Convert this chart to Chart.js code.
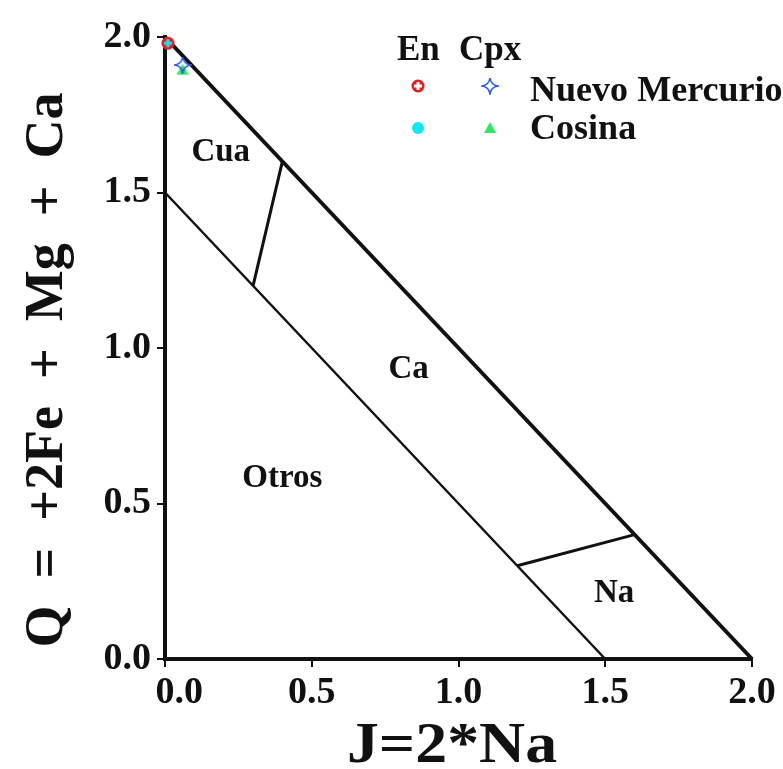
<!DOCTYPE html>
<html>
<head>
<meta charset="utf-8">
<script src="https://cdn.jsdelivr.net/npm/chart.js@4"></script>
<style>
  body { margin: 0; background: #fff; }
  canvas { display: block; }
</style>
</head>
<body>
<canvas id="chart" width="783" height="769"></canvas>
<script>
// field boundaries (J, Q)
var outerJ = [0, 2], outerQ = [2, 0];
var innerJ = [0, 1.5], innerQ = [1.5, 0];
var cuaCaJ = [0.3, 0.4], cuaCaQ = [1.2, 1.6];
var caNaJ = [1.2, 1.6], caNaQ = [0.3, 0.4];

// field names
var regionNames = ['Cua', 'Ca', 'Otros', 'Na'];
var regionJ = [0.19, 0.83, 0.40, 1.53];
var regionQ = [1.63, 0.93, 0.58, 0.21];

// samples
var localities = ['Nuevo Mercurio', 'Cosina'];
var enJ = [0.01, 0.01], enQ = [1.98, 1.98];
var cpxJ = [0.06, 0.06], cpxQ = [1.91, 1.895];

var tickLabels = ['   0.0', '0.5', '1.0', '1.5', '2.0'];
var yTickLabels = ['0.0', '0.5', '1.0', '1.5', '2.0'];

var FONT = "'Liberation Serif', 'Times New Roman', serif";

function pts(xs, ys) {
    return xs.map(function(x, i) { return { x: x, y: ys[i] }; });
}

// marker images
function makeMarker(draw) {
    var c = document.createElement('canvas');
    c.width = 18; c.height = 18;
    draw(c.getContext('2d'));
    return c;
}
var redRing = makeMarker(function(g) {
    g.fillStyle = '#f01818';
    g.beginPath(); g.arc(9, 9, 6.5, 0, Math.PI * 2); g.fill();
    g.globalCompositeOperation = 'destination-out';
    g.fillRect(7.5, 5, 3, 8);
    g.fillRect(5, 7.5, 8, 3);
});
var cyanDot = makeMarker(function(g) {
    g.fillStyle = '#10e8f8';
    g.beginPath(); g.arc(9, 9, 6, 0, Math.PI * 2); g.fill();
});
var blueStar = makeMarker(function(g) {
    g.strokeStyle = '#2a5be8';
    g.lineWidth = 1.6;
    g.beginPath();
    g.moveTo(9, 1);
    g.quadraticCurveTo(10, 8, 17, 9);
    g.quadraticCurveTo(10, 10, 9, 17);
    g.quadraticCurveTo(8, 10, 1, 9);
    g.quadraticCurveTo(8, 8, 9, 1);
    g.stroke();
});
var greenTri = makeMarker(function(g) {
    g.fillStyle = '#2ee860';
    g.beginPath();
    g.moveTo(9, 3); g.lineTo(15, 14); g.lineTo(3, 14); g.closePath();
    g.fill();
});

function lineSet(xs, ys, w) {
    return {
        data: pts(xs, ys),
        showLine: true,
        borderColor: '#111',
        borderWidth: w,
        pointRadius: 0,
        clip: false,
        order: 10
    };
}
function pointSet(xs, ys, img, ord) {
    return {
        data: pts(xs, ys),
        pointStyle: img,
        pointRadius: 9,
        clip: false,
        order: ord
    };
}

var labelsPlugin = {
    id: 'labels',
    afterDatasetsDraw: function(chart) {
        var ctx = chart.ctx;
        var xs = chart.scales.x, ys = chart.scales.y;
        ctx.save();
        ctx.fillStyle = '#111';
        ctx.font = 'bold 33px ' + FONT;
        ctx.textAlign = 'center';
        ctx.textBaseline = 'middle';
        regionNames.forEach(function(n, i) {
            ctx.fillText(n, xs.getPixelForValue(regionJ[i]), ys.getPixelForValue(regionQ[i]));
        });

        // legend
        ctx.textAlign = 'left';
        ctx.textBaseline = 'alphabetic';
        ctx.font = 'bold 35px ' + FONT;
        ctx.fillText('En', 397, 60);
        ctx.fillText('Cpx', 459, 60);
        ctx.drawImage(redRing, 409, 77);
        ctx.drawImage(blueStar, 481, 77);
        ctx.drawImage(cyanDot, 409, 119);
        ctx.drawImage(greenTri, 481, 119);
        ctx.save();
        ctx.translate(530, 0);
        ctx.scale(1.03, 1);
        ctx.fillText(localities[0], 0, 101);
        ctx.fillText(localities[1], 0, 139);
        ctx.restore();

        // axis titles
        ctx.save();
        ctx.font = 'bold 56px ' + FONT;
        ctx.textAlign = 'center';
        ctx.translate(452, 762);
        ctx.scale(1.14, 1);
        ctx.fillText('J=2*Na', 0, 0);
        ctx.restore();

        ctx.translate(62, 370);
        ctx.rotate(-Math.PI / 2);
        ctx.font = 'bold 54px ' + FONT;
        ctx.textAlign = 'center';
        ctx.fillText('Q  =  +2Fe  +  Mg  +  Ca', 0, 0);
        ctx.restore();
    }
};

var ctx = document.getElementById('chart').getContext('2d');
var chart = new Chart(ctx, {
    type: 'scatter',
    data: {
        datasets: [
            pointSet(enJ.slice(0, 1), enQ.slice(0, 1), redRing, 1),
            pointSet(enJ.slice(1), enQ.slice(1), cyanDot, 2),
            pointSet(cpxJ.slice(0, 1), cpxQ.slice(0, 1), blueStar, 3),
            pointSet(cpxJ.slice(1), cpxQ.slice(1), greenTri, 4),
            lineSet(outerJ, outerQ, 4),
            lineSet(innerJ, innerQ, 2.5),
            lineSet(cuaCaJ, cuaCaQ, 3),
            lineSet(caNaJ, caNaQ, 3)
        ]
    },
    options: {
        responsive: false,
        animation: false,
        layout: { padding: { top: 37, right: 31, left: 0, bottom: 0 } },
        plugins: { legend: { display: false }, tooltip: { enabled: false } },
        scales: {
            x: {
                type: 'linear', min: 0, max: 2,
                border: { display: true, color: '#111', width: 4 },
                grid: { drawOnChartArea: false, color: '#111', lineWidth: 2, tickLength: 8 },
                ticks: {
                    stepSize: 0.5, color: '#111', padding: 3,
                    font: { family: FONT, weight: 'bold', size: 38 },
                    callback: function(v, i) { return tickLabels[i]; }
                },
                afterFit: function(s) { s.height = 110; }
            },
            y: {
                type: 'linear', min: 0, max: 2,
                border: { display: true, color: '#111', width: 4 },
                grid: { drawOnChartArea: false, color: '#111', lineWidth: 2, tickLength: 8 },
                ticks: {
                    stepSize: 0.5, color: '#111', padding: 6,
                    font: { family: FONT, weight: 'bold', size: 38 },
                    callback: function(v, i) { return yTickLabels[i]; }
                },
                afterFit: function(s) { s.width = 165; }
            }
        }
    },
    plugins: [labelsPlugin]
});
</script>
</body>
</html>
